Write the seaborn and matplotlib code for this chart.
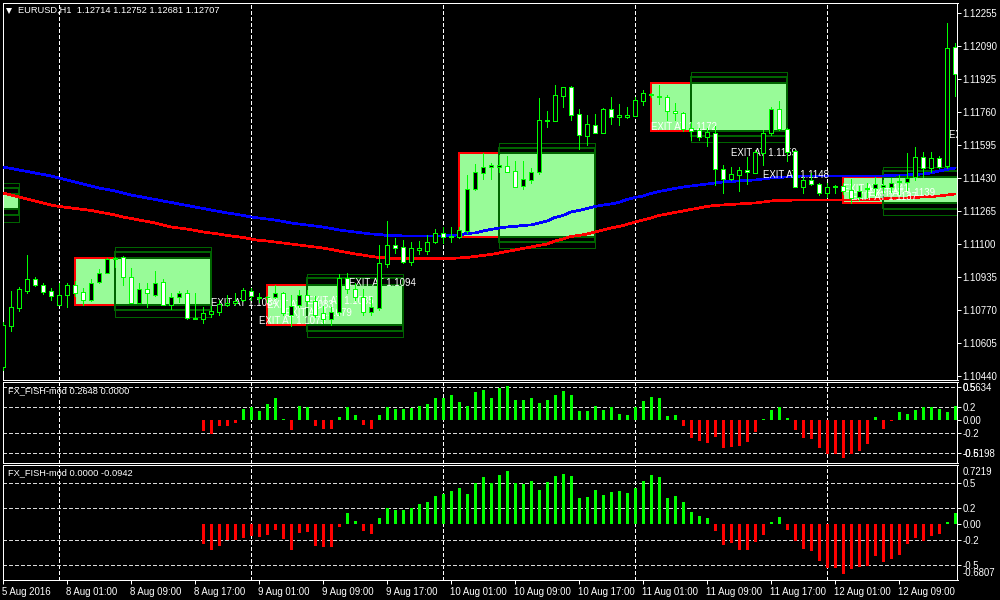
import numpy as np
import pandas as pd
import seaborn as sns
import matplotlib
matplotlib.use("Agg")
import matplotlib.pyplot as plt
from matplotlib.patches import Rectangle
from matplotlib.transforms import blended_transform_factory, ScaledTranslation

# prices are kept in points (1e-5) to keep the lists short
high_pts = [110712,110865,110883,111045,110933,110903,110878,110903,110903,110913,
            110880,110923,110977,111028,111037,111040,110980,110903,110903,110965,
            110923,110853,110863,110870,110855,110787,110790,110820,110845,110857,
            110880,110880,110855,110840,110895,110860,110845,110870,110870,110840,
            110790,110787,110950,110953,110905,110873,110835,111095,111215,111128,
            111120,111110,111115,111145,111175,111187,111183,111187,111445,111500,
            111553,111503,111545,111540,111515,111515,111478,111830,111765,111895,
            111887,111890,111775,111745,111750,111780,111835,111800,111785,111837,
            111870,111853,111895,111845,111803,111762,111712,111678,111678,111690,
            111495,111487,111487,111537,111570,111670,111787,111815,111678,111570,
            111437,111453,111403,111403,111395,111403,111425,111390,111405,111437,
            111420,111430,111445,111555,111585,111560,111560,111540,112205,112105]
low_pts = [110470,110665,110767,110853,110890,110852,110820,110795,110787,110840,
           110793,110815,110903,110953,110987,110895,110807,110803,110787,110840,
           110797,110773,110812,110727,110723,110707,110735,110745,110790,110795,
           110817,110820,110812,110810,110832,110745,110692,110787,110790,110735,
           110705,110695,110745,110853,110820,110745,110745,110770,110987,111057,
           111007,110995,111050,111050,111107,111103,111112,111128,111153,111370,
           111425,111425,111462,111462,111387,111375,111405,111450,111687,111717,
           111787,111720,111577,111595,111657,111657,111700,111695,111728,111742,
           111795,111837,111800,111720,111720,111667,111620,111620,111592,111395,
           111357,111420,111367,111400,111453,111495,111645,111670,111517,111387,
           111357,111393,111343,111337,111357,111350,111305,111320,111335,111345,
           111355,111360,111350,111370,111420,111435,111460,111480,111480,111840]
open_pts = [110487,110692,110782,110867,110925,110897,110863,110797,110843,110897,
            110858,110822,110908,110957,111032,111033,110933,110807,110873,110847,
            110908,110797,110833,110853,110727,110725,110748,110762,110793,110803,
            110820,110863,110832,110835,110837,110853,110745,110795,110843,110817,
            110753,110727,110762,110928,110873,110837,110762,110782,111002,111093,
            111083,111012,111072,111067,111112,111153,111133,111137,111167,111373,
            111457,111483,111487,111488,111463,111392,111422,111458,111715,111717,
            111842,111883,111748,111642,111693,111657,111773,111737,111737,111742,
            111817,111843,111842,111833,111763,111753,111678,111668,111633,111653,
            111473,111423,111447,111468,111457,111557,111657,111773,111673,111563,
            111387,111418,111398,111357,111385,111390,111370,111337,111373,111382,
            111387,111387,111411,111412,111435,111533,111480,111530,111492,112083]
close_pts = [110694,110784,110873,110923,110897,110862,110842,110843,110897,110857,
             110822,110907,110957,111023,111023,110933,110807,110873,110853,110907,
             110797,110833,110853,110728,110730,110755,110765,110798,110803,110817,
             110870,110840,110835,110837,110853,110753,110792,110843,110817,110745,
             110727,110758,110928,110873,110837,110762,110783,111003,111093,111082,
             111012,111078,111078,111108,111153,111137,111140,111168,111373,111458,
             111483,111493,111493,111462,111387,111423,111458,111718,111720,111843,
             111883,111747,111643,111698,111657,111773,111737,111743,111743,111818,
             111853,111850,111833,111763,111755,111673,111667,111633,111662,111473,
             111423,111448,111468,111458,111558,111657,111773,111673,111562,111387,
             111418,111398,111357,111387,111390,111367,111330,111367,111382,111398,
             111393,111403,111416,111432,111533,111480,111530,111485,112080,111950]
ma_blue_pts = [111485,111478,111470,111463,111455,111448,111440,111430,111420,111410,
               111400,111390,111380,111373,111365,111355,111345,111338,111330,111323,
               111315,111308,111300,111293,111285,111278,111270,111263,111255,111250,
               111243,111235,111230,111225,111220,111213,111205,111200,111195,111190,
               111185,111178,111170,111165,111160,111155,111150,111148,111143,111143,
               111140,111140,111140,111140,111140,111140,111143,111145,111153,111155,
               111165,111173,111180,111185,111188,111193,111195,111205,111215,111233,
               111243,111260,111268,111278,111288,111295,111300,111308,111323,111333,
               111340,111353,111363,111370,111378,111385,111390,111395,111400,111405,
               111410,111413,111415,111418,111420,111425,111430,111433,111435,111438,
               111440,111440,111440,111440,111440,111440,111440,111440,111440,111440,
               111440,111443,111445,111445,111448,111450,111455,111465,111473,111480]
ma_red_pts = [111355,111345,111335,111325,111315,111305,111295,111288,111283,111278,
              111273,111268,111260,111253,111245,111235,111228,111220,111213,111205,
              111195,111185,111180,111175,111168,111160,111155,111150,111143,111138,
              111133,111125,111118,111115,111110,111105,111100,111095,111090,111085,
              111080,111073,111065,111058,111050,111045,111038,111033,111030,111028,
              111028,111028,111028,111028,111028,111028,111028,111030,111033,111038,
              111043,111048,111055,111063,111070,111078,111085,111093,111100,111115,
              111125,111138,111143,111150,111160,111170,111180,111188,111198,111210,
              111220,111230,111243,111250,111258,111265,111273,111280,111288,111293,
              111295,111298,111300,111303,111305,111310,111315,111318,111318,111320,
              111320,111320,111320,111320,111320,111320,111320,111320,111320,111323,
              111325,111328,111330,111330,111333,111335,111338,111340,111345,111350]

# FX_FISH histograms start at bar 25
fish_upper = [-0.16,-0.21,-0.09,-0.09,-0.045,0.17,0.19,0.14,0.24,0.33,
              0.01,-0.15,0.21,0.19,-0.09,-0.13,-0.13,0.045,0.19,0.075,
              -0.075,-0.13,0.075,0.20,0.17,0.17,0.18,0.21,0.24,0.33,
              0.33,0.38,0.27,0.21,0.42,0.45,0.33,0.485,0.515,0.30,
              0.30,0.33,0.26,0.30,0.38,0.44,0.38,0.14,0.14,0.21,
              0.15,0.19,0.09,0.075,0.19,0.29,0.35,0.33,0.06,0.075,
              -0.09,-0.27,-0.32,-0.35,-0.26,-0.42,-0.41,-0.39,-0.33,-0.18,
              0.015,0.15,0.19,0.03,-0.15,-0.27,-0.29,-0.42,-0.52,-0.52,
              -0.58,-0.52,-0.47,-0.36,0.045,-0.14,-0.01,0.12,0.09,0.15,
              0.19,0.19,0.17,0.12,0.21]
fish_lower = [-0.245,-0.32,-0.27,-0.20,-0.20,-0.17,-0.15,-0.16,-0.135,-0.075,
              -0.185,-0.32,-0.105,-0.10,-0.27,-0.28,-0.28,-0.035,0.135,0.035,
              -0.085,-0.12,0.075,0.20,0.17,0.17,0.20,0.245,0.27,0.345,
              0.37,0.405,0.44,0.37,0.505,0.58,0.505,0.60,0.65,0.505,
              0.49,0.53,0.42,0.515,0.59,0.615,0.59,0.32,0.33,0.42,
              0.355,0.39,0.405,0.38,0.44,0.53,0.60,0.58,0.32,0.345,
              0.27,0.15,0.10,0.075,-0.085,-0.26,-0.23,-0.32,-0.32,-0.22,
              -0.135,0.025,0.085,-0.075,-0.21,-0.31,-0.33,-0.455,-0.54,-0.54,
              -0.615,-0.555,-0.53,-0.515,-0.39,-0.465,-0.43,-0.38,-0.245,-0.17,
              -0.21,-0.15,-0.12,0.025,0.135]

price_ticks = [1.12255,1.12090,1.11925,1.11760,1.11595,1.11430,1.11265,1.11100,1.10935,1.10770,1.10605,1.10440]
time_labels = ["5 Aug 2016","8 Aug 01:00","8 Aug 09:00","8 Aug 17:00","9 Aug 01:00","9 Aug 09:00",
               "9 Aug 17:00","10 Aug 01:00","10 Aug 09:00","10 Aug 17:00","11 Aug 01:00","11 Aug 09:00",
               "11 Aug 17:00","12 Aug 01:00","12 Aug 09:00"]

# zones: start, split, end bar, then fill / thick / thin price levels
zone_bars = [(-3,-1,2),(9,14,26),(33,38,50),(57,62,74),(81,86,98),(105,110,125)]
zone_fill = [(1.11348,1.11275),(1.11032,1.10795),(1.10893,1.10695),(1.11555,1.11135),(1.11905,1.11665),(1.11435,1.11305)]
zone_thick = [(1.11378,1.11245),(1.11060,1.10770),(1.10929,1.10667),(1.11582,1.11110),(1.11934,1.11640),(1.11465,1.11277)]
zone_thin = [(1.11405,1.11210),(1.11085,1.10735),(1.10949,1.10637),(1.11607,1.11079),(1.11962,1.11609),(1.11487,1.11244)]

exit_bars = [26,33,38,35.25,32,43.2,81,91,95,105,106,108.2,118.3]
exit_prices = [1.1084,1.1083,1.1085,1.1079,1.1075,1.1094,1.1172,1.1159,1.1148,1.1141,1.1137,1.1139,1.1168]

BG = "#000000"
LIME = "#00ff00"
PALE = "#98fb98"
DARK = "#006400"
PX = 0.72  # one pixel in points

sns.set_theme(style="dark", rc={
    "figure.facecolor": BG, "axes.facecolor": BG, "axes.edgecolor": "white",
    "axes.linewidth": PX, "text.color": "white", "xtick.color": "white", "ytick.color": "white",
    "lines.antialiased": False, "patch.antialiased": False,
})
plt.rcParams["font.family"] = ["Liberation Sans", "DejaVu Sans"]
FS = 6.9
TITLE_FS = 6.65

fig = plt.figure(figsize=(10, 6), dpi=100)

def panel(top, bottom):
    return fig.add_axes([2.5 / 1000, 1 - bottom / 600, 955 / 1000, (bottom - top) / 600])

bars = np.arange(120)
XLIM = (-0.0625, 119.3125)
grid_bars = [7, 31, 55, 79, 103]

ax = panel(2.5, 379.5)
ax1 = panel(381.5, 462.5)
ax2 = panel(464.5, 579.5)

for a in (ax, ax1, ax2):
    for g in grid_bars:
        a.axvline(g, color="white", lw=PX, ls=(0, (3, 2.5)), zorder=1)
    for s in a.spines.values():
        s.set_color("white")
        s.set_linewidth(PX)

# --- zones ---
for (x0, x1, x2), (ft, fb), (kt, kb), (nt, nb) in zip(zone_bars, zone_fill, zone_thick, zone_thin):
    ax.add_patch(Rectangle((x0, fb), x1 - x0, ft - fb, fc=PALE, ec="#ff0000", lw=2 * PX, zorder=2))
    ax.add_patch(Rectangle((x1, fb), x2 - x1, ft - fb, fc=PALE, ec=DARK, lw=2 * PX, zorder=2.1))
    ax.add_patch(Rectangle((x1, kb), x2 - x1, kt - kb, fc="none", ec=DARK, lw=2 * PX, zorder=2.2))
    ax.add_patch(Rectangle((x1, nb), x2 - x1, nt - nb, fc="none", ec=DARK, lw=PX, zorder=2.2))

# --- moving averages ---
sns.lineplot(x=bars, y=np.array(ma_blue_pts) / 1e5, color="#0000ff", lw=1.7 * PX, estimator=None, errorbar=None, ax=ax, zorder=3)
sns.lineplot(x=bars, y=np.array(ma_red_pts) / 1e5, color="#ff0000", lw=1.7 * PX, estimator=None, errorbar=None, ax=ax, zorder=3.1)

# --- exit labels ---
for b, p in zip(exit_bars, exit_prices):
    ax.annotate(f"EXIT AT {p:.4f}", (b, p), xytext=(0, -1.5), textcoords="offset points", color="white",
                fontsize=FS, va="top", ha="left", clip_on=True, annotation_clip=False, zorder=4)

# --- candles ---
o, c = np.array(open_pts) / 1e5, np.array(close_pts) / 1e5
ax.vlines(bars, np.array(low_pts) / 1e5, np.array(high_pts) / 1e5, color=LIME, lw=PX, antialiased=False, zorder=5)
ax.bar(bars, np.abs(c - o), bottom=np.minimum(o, c), width=0.5,
       color=["white" if v < u else "black" for u, v in zip(o, c)],
       edgecolor=LIME, linewidth=PX, zorder=6)

ax.set_xlim(XLIM)
ax.set_ylim(1.1232 - 379.5 * 5e-5, 1.1232 - 2.5 * 5e-5)
ax.set_xticks([])
ax.set_xlabel("")
ax.yaxis.tick_right()
ax.set_yticks(price_ticks)
ax.set_yticklabels([f"{p:.5f}" for p in price_ticks], fontsize=FS)
ax.tick_params(axis="y", length=3, width=PX, pad=0.5, color="white", labelcolor="white", left=False, right=True)

ax.plot([0.0065], [0.9785], marker="v", color="white", ms=4.5, mew=0, transform=ax.transAxes, clip_on=False, zorder=8)
ax.text(15.5 / 955, 1 - 8 / 377, "EURUSD,H1  1.12714 1.12752 1.12681 1.12707", transform=ax.transAxes,
        fontsize=TITLE_FS, va="center", ha="left", zorder=8)


# --- indicators ---
def fish_panel(a, values, ylim, extras, title, title_y):
    df = pd.DataFrame({"bar": bars[25:], "value": values})
    df["side"] = np.where(df["value"] >= 0, "up", "down")
    sns.barplot(data=df, x="bar", y="value", hue="side", palette={"up": LIME, "down": "#ff0000"},
                native_scale=True, dodge=False, width=0.375, linewidth=0, errorbar=None,
                saturation=1, legend=False, ax=a, zorder=3)
    for lev in (0.5, 0.2, -0.2, -0.5):
        a.axhline(lev, color="#d8d8d8", lw=PX, ls=(0, (3, 2.5)), zorder=1)
    a.set_xlim(XLIM)
    a.set_ylim(ylim)
    a.set_xlabel("")
    a.set_ylabel("")
    a.yaxis.tick_right()
    a.set_yticks([0.5, 0.2, 0.0, -0.2, -0.5])
    a.set_yticklabels(["0.5", "0.2", "0.00", "-0.2", "-0.5"], fontsize=FS)
    a.tick_params(axis="y", length=3, width=PX, pad=0.5, color="white", labelcolor="white", left=False, right=True)
    tr = blended_transform_factory(a.transAxes, a.transData)
    for txt, y in extras:
        a.text(1 + 5.5 / 955, y, txt, transform=tr, fontsize=FS, va="center", ha="left", clip_on=False)
    a.text(5 / 955, title_y, title, transform=tr, fontsize=TITLE_FS, va="center", ha="left", zorder=8)


fish_panel(ax1, fish_upper, (-0.644, 0.583), [("0.5634", 0.49), ("-0.6198", -0.52)],
           "FX_FISH-mod 0.2648 0.0000", 0.445)
fish_panel(ax2, fish_lower, (-0.683, 0.732), [("0.7219", 0.643), ("-0.6807", -0.60)],
           "FX_FISH-mod 0.0000 -0.0942", 0.625)

ax1.set_xticks([])
ax2.set_xticks(bars[::8][:15])
ax2.set_xticklabels(time_labels, fontsize=FS, ha="left")
ax2.tick_params(axis="x", length=3, width=PX, pad=2.5, color="white", labelcolor="white", bottom=True)
shift = ScaledTranslation(-1 / 100, 0, fig.dpi_scale_trans)
for lab in ax2.get_xticklabels():
    lab.set_transform(lab.get_transform() + shift)

fig.savefig("out.png", dpi=100, facecolor=BG)
